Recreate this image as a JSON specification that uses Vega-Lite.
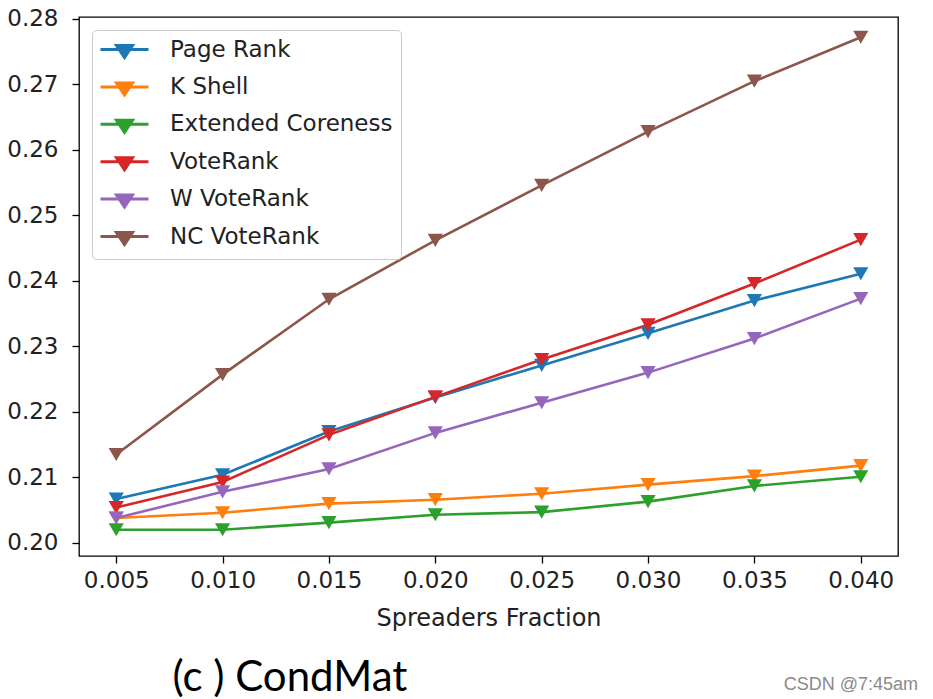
{
  "$schema": "https://vega.github.io/schema/vega-lite/v6.json",
  "width": 819,
  "height": 539,
  "autosize": {"type": "none"},
  "padding": {"left": 79, "top": 17, "right": 35, "bottom": 143},
  "background": "white",
  "title": {
    "text": "CSDN @7:45am",
    "orient": "bottom",
    "anchor": "end",
    "dx": 20,
    "offset": -22,
    "font": "Liberation Sans",
    "fontSize": 18,
    "fontWeight": "normal",
    "color": "#8a8a8a"
  },
  "config": {
    "view": {"stroke": "#000", "strokeWidth": 1.3},
    "axis": {"grid": false, "domain": false}
  },
  "data": {
    "values": [
      {"x": 0.005, "method": "Page Rank", "y": 0.2067},
      {"x": 0.010, "method": "Page Rank", "y": 0.2104},
      {"x": 0.015, "method": "Page Rank", "y": 0.2170},
      {"x": 0.020, "method": "Page Rank", "y": 0.2222},
      {"x": 0.025, "method": "Page Rank", "y": 0.2271},
      {"x": 0.030, "method": "Page Rank", "y": 0.2320},
      {"x": 0.035, "method": "Page Rank", "y": 0.2370},
      {"x": 0.040, "method": "Page Rank", "y": 0.2411},
      {"x": 0.005, "method": "K Shell", "y": 0.2038},
      {"x": 0.010, "method": "K Shell", "y": 0.2046},
      {"x": 0.015, "method": "K Shell", "y": 0.2060},
      {"x": 0.020, "method": "K Shell", "y": 0.2066},
      {"x": 0.025, "method": "K Shell", "y": 0.2075},
      {"x": 0.030, "method": "K Shell", "y": 0.2089},
      {"x": 0.035, "method": "K Shell", "y": 0.2102},
      {"x": 0.040, "method": "K Shell", "y": 0.2118},
      {"x": 0.005, "method": "Extended Coreness", "y": 0.2020},
      {"x": 0.010, "method": "Extended Coreness", "y": 0.2020},
      {"x": 0.015, "method": "Extended Coreness", "y": 0.2031},
      {"x": 0.020, "method": "Extended Coreness", "y": 0.2043},
      {"x": 0.025, "method": "Extended Coreness", "y": 0.2047},
      {"x": 0.030, "method": "Extended Coreness", "y": 0.2063},
      {"x": 0.035, "method": "Extended Coreness", "y": 0.2087},
      {"x": 0.040, "method": "Extended Coreness", "y": 0.2101},
      {"x": 0.005, "method": "VoteRank", "y": 0.2054},
      {"x": 0.010, "method": "VoteRank", "y": 0.2093},
      {"x": 0.015, "method": "VoteRank", "y": 0.2165},
      {"x": 0.020, "method": "VoteRank", "y": 0.2223},
      {"x": 0.025, "method": "VoteRank", "y": 0.2280},
      {"x": 0.030, "method": "VoteRank", "y": 0.2333},
      {"x": 0.035, "method": "VoteRank", "y": 0.2396},
      {"x": 0.040, "method": "VoteRank", "y": 0.2463},
      {"x": 0.005, "method": "W VoteRank", "y": 0.2038},
      {"x": 0.010, "method": "W VoteRank", "y": 0.2078},
      {"x": 0.015, "method": "W VoteRank", "y": 0.2113},
      {"x": 0.020, "method": "W VoteRank", "y": 0.2168},
      {"x": 0.025, "method": "W VoteRank", "y": 0.2214},
      {"x": 0.030, "method": "W VoteRank", "y": 0.2260},
      {"x": 0.035, "method": "W VoteRank", "y": 0.2312},
      {"x": 0.040, "method": "W VoteRank", "y": 0.2373},
      {"x": 0.005, "method": "NC VoteRank", "y": 0.2135},
      {"x": 0.010, "method": "NC VoteRank", "y": 0.2257},
      {"x": 0.015, "method": "NC VoteRank", "y": 0.2372},
      {"x": 0.020, "method": "NC VoteRank", "y": 0.2462},
      {"x": 0.025, "method": "NC VoteRank", "y": 0.2546},
      {"x": 0.030, "method": "NC VoteRank", "y": 0.2628},
      {"x": 0.035, "method": "NC VoteRank", "y": 0.2705},
      {"x": 0.040, "method": "NC VoteRank", "y": 0.2772}
    ]
  },
  "resolve": {"axis": {"x": "independent"}},
  "layer": [
    {
      "mark": {"type": "line", "strokeWidth": 2.6},
      "encoding": {
        "x": {
          "field": "x", "type": "quantitative",
          "scale": {"domain": [0.00325, 0.04175], "nice": false, "zero": false},
          "axis": {
            "values": [0.005, 0.010, 0.015, 0.020, 0.025, 0.030, 0.035, 0.040],
            "format": ".3f",
            "labelFont": "DejaVu Sans", "labelFontSize": 23, "labelColor": "#222",
            "tickColor": "#000", "tickSize": 7, "tickWidth": 1.3, "labelPadding": 6,
            "title": "Spreaders Fraction",
            "titleFont": "DejaVu Sans", "titleFontSize": 24, "titleFontWeight": "normal",
            "titleColor": "#222", "titlePadding": 14
          }
        },
        "y": {
          "field": "y", "type": "quantitative",
          "scale": {"domain": [0.198, 0.2803], "nice": false, "zero": false},
          "axis": {
            "values": [0.20, 0.21, 0.22, 0.23, 0.24, 0.25, 0.26, 0.27, 0.28],
            "format": ".2f",
            "labelFont": "DejaVu Sans", "labelFontSize": 23, "labelColor": "#222",
            "tickColor": "#000", "tickSize": 7, "tickWidth": 1.3, "labelPadding": 14,
            "title": null
          }
        },
        "color": {
          "field": "method", "type": "nominal",
          "scale": {
            "domain": ["Page Rank", "K Shell", "Extended Coreness", "VoteRank", "W VoteRank", "NC VoteRank"],
            "range": ["#1f77b4", "#ff7f0e", "#2ca02c", "#d62728", "#9467bd", "#8c564b"]
          },
          "legend": {
            "title": null,
            "orient": "top-left",
            "offset": 13,
            "padding": 8,
            "cornerRadius": 4,
            "fillColor": "white",
            "strokeColor": "#cccccc",
            "symbolType": "M-1.1,0H3.7M0.5,-0.4H2.1L1.3,0.8Z",
            "symbolSize": 400,
            "symbolStrokeWidth": 3,
            "labelOffset": 47,
            "labelLimit": 400,
            "labelFont": "DejaVu Sans",
            "labelFontSize": 23,
            "labelColor": "#222",
            "rowPadding": 11.4,
            "encode": {
              "symbols": {
                "update": {
                  "fill": {"scale": "color", "field": "value"},
                  "stroke": {"scale": "color", "field": "value"},
                  "strokeWidth": {"value": 3},
                  "opacity": {"value": 1}
                }
              }
            }
          }
        }
      }
    },
    {
      "mark": {"type": "point", "shape": "triangle-down", "filled": true, "size": 230, "opacity": 1},
      "encoding": {
        "x": {
          "field": "x", "type": "quantitative",
          "scale": {"domain": [0.00325, 0.04175], "nice": false, "zero": false},
          "axis": {
            "orient": "bottom", "labels": false, "ticks": false, "domain": false, "grid": false,
            "title": "(c ) CondMat",
            "titleFont": "Lato", "titleFontSize": 42, "titleFontWeight": "normal", "titleColor": "#000",
            "titleX": 93, "titleY": 134, "titleAlign": "left", "titleBaseline": "alphabetic", "titleAnchor": "start"
          }
        },
        "y": {"field": "y", "type": "quantitative"},
        "color": {"field": "method", "type": "nominal"}
      }
    }
  ]
}
